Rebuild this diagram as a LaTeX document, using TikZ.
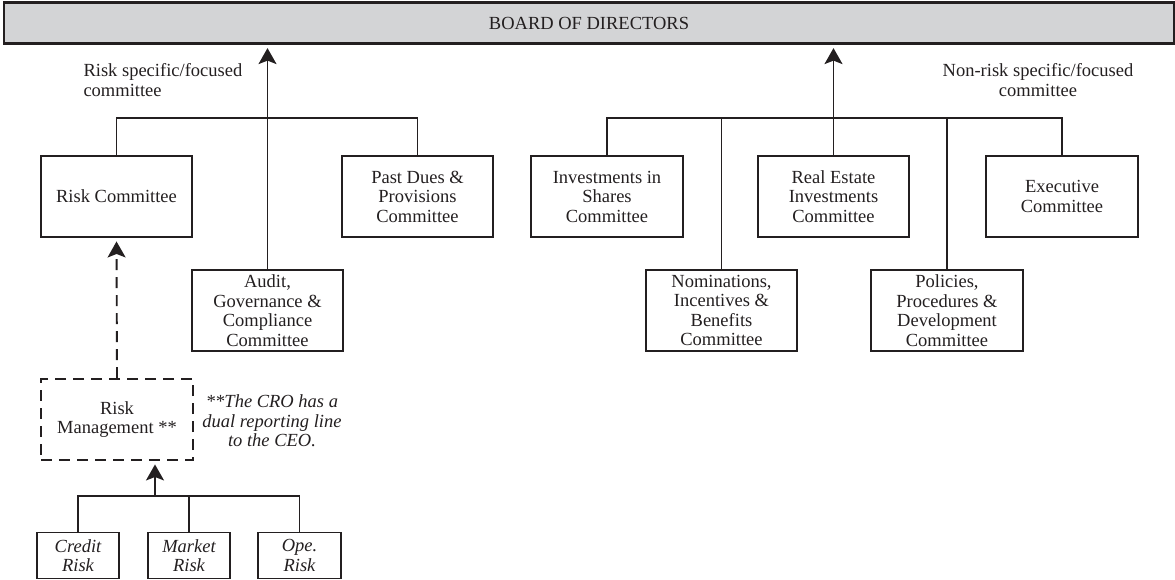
\documentclass[tikz,border=0pt]{standalone}
\usepackage{fontspec}
\setmainfont{Liberation Serif}
\usetikzlibrary{arrows.meta}
\definecolor{ink}{HTML}{231F20}
\definecolor{boardgray}{HTML}{D3D4D6}
\begin{document}
\begin{tikzpicture}[x=1pt,y=-1pt,
  every node/.style={font=\fontsize{18.5}{19.5}\selectfont, text=ink},
  box/.style={draw=ink, line width=1.9pt, rectangle, align=center,
    minimum width=151pt, minimum height=81pt, inner sep=2pt},
  smallbox/.style={box, minimum width=82pt, minimum height=46pt,
    font=\fontsize{18.5}{19.5}\selectfont\itshape},
  dashbox/.style={box, dash pattern=on 11pt off 7pt},
  link/.style={draw=ink, line width=1.9pt},
  arr/.style={link, -{Stealth[length=16pt,width=18pt,inset=3.5pt]}, shorten >=3.5pt}
]
\useasboundingbox (0,0) rectangle (1175,579);

% Board
\node[draw=ink, line width=2.2pt, fill=boardgray, minimum width=1170pt,
  minimum height=41pt, inner sep=0pt] (board) at (589,23) {BOARD OF DIRECTORS};

% Group labels
\node[align=left, anchor=west] (lblrisk) at (80,80) {Risk specific/focused\\committee};
\node[align=center] (lblnonrisk) at (1038,80) {Non-risk specific/focused\\committee};

% Risk focused committees
\node[box] (rc) at (116.5,196.5) {Risk Committee};
\node[box] (pd) at (417.5,196.5) {Past Dues \&\\Provisions\\Committee};
\node[box] (audit) at (267.5,310.5) {Audit,\\Governance \&\\Compliance\\Committee};

% Non-risk focused committees
\node[box, minimum width=152pt] (inv) at (607,196.5) {Investments in\\Shares\\Committee};
\node[box] (re) at (833.5,196.5) {Real Estate\\Investments\\Committee};
\node[box, minimum width=152pt] (exe) at (1062,196.5) {Executive\\Committee};
\node[box] (nom) at (721.5,310.5) {Nominations,\\Incentives \&\\Benefits\\Committee};
\node[box, minimum width=152pt] (pol) at (947,310.5) {Policies,\\Procedures \&\\Development\\Committee};

% Risk management
\node[dashbox, minimum width=152pt] (rm) at (117,419.5) {Risk\\Management **};
\node[align=center, font=\fontsize{18.5}{19.5}\selectfont\itshape] (note) at (272,421)
  {**The CRO has a\\dual reporting line\\to the CEO.};

\node[smallbox] (credit) at (78,555.5) {Credit\\Risk};
\node[smallbox] (market) at (189,555.5) {Market\\Risk};
\node[smallbox, minimum width=83pt] (ope) at (299.5,555.5) {Ope.\\Risk};

% Bus levels
\coordinate (lbus) at (0,118);
\coordinate (rbus) at (0,118);
\coordinate (bbus) at (155,496);

% Left group connectors
\draw[link] (rc.north) -- (rc.north |- lbus) -- (pd.north |- lbus) -- (pd.north);
\draw[arr] (audit.north) -- (audit.north |- board.south);

% Right group connectors
\draw[link] (inv.north) -- (inv.north |- rbus) -- (exe.north |- rbus) -- (exe.north);
\draw[link] (nom.north) -- (nom.north |- rbus);
\draw[link] (pol.north) -- (pol.north |- rbus);
\draw[arr] (re.north) -- (re.north |- board.south);

% Risk management connectors
\draw[arr, dash pattern=on 11pt off 7pt] (rm.north) -- (rc.south);
\draw[link] (credit.north) -- (credit.north |- bbus) -- (ope.north |- bbus) -- (ope.north);
\draw[link] (market.north) -- (market.north |- bbus);
\draw[arr] (bbus) -- (bbus |- rm.south);
\end{tikzpicture}
\end{document}
